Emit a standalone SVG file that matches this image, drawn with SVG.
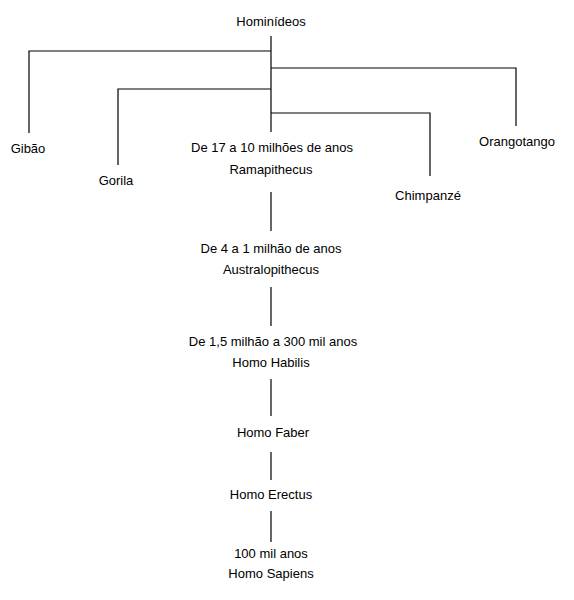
<svg xmlns="http://www.w3.org/2000/svg" width="574" height="600" viewBox="0 0 574 600">
<style>
text{font-family:"Liberation Sans",Arial,sans-serif;font-size:13px;fill:#000;text-anchor:middle}
.l{stroke:#000;stroke-width:1.2;fill:none}
</style>
<rect width="574" height="600" fill="#fff"/>
<g id="connectors">
<path class="l" d="M271 36V132"/>
<path class="l" d="M271 51H29V133"/>
<path class="l" d="M271 68H516V126"/>
<path class="l" d="M271 89H118V165"/>
<path class="l" d="M271 113H430V176"/>
<path class="l" d="M271 192V231"/>
<path class="l" d="M271 287V326"/>
<path class="l" d="M271 379V416"/>
<path class="l" d="M271 452V480"/>
<path class="l" d="M271 511V542"/>
</g>
<g id="hominideos"><text x="271" y="26">Hominídeos</text></g>
<g id="gibao"><text x="28" y="153">Gibão</text></g>
<g id="gorila"><text x="116" y="185">Gorila</text></g>
<g id="orangotango"><text x="517" y="146">Orangotango</text></g>
<g id="chimpanze"><text x="428" y="200">Chimpanzé</text></g>
<g id="ramapithecus"><text x="272" y="152">De 17 a 10 milhões de anos</text><text x="271" y="174">Ramapithecus</text></g>
<g id="australopithecus"><text x="271" y="253">De 4 a 1 milhão de anos</text><text x="271" y="274">Australopithecus</text></g>
<g id="homo-habilis"><text x="273" y="346">De 1,5 milhão a 300 mil anos</text><text x="271" y="367">Homo Habilis</text></g>
<g id="homo-faber"><text x="273" y="437">Homo Faber</text></g>
<g id="homo-erectus"><text x="271" y="499">Homo Erectus</text></g>
<g id="homo-sapiens"><text x="271" y="558">100 mil anos</text><text x="271" y="578">Homo Sapiens</text></g>
</svg>
